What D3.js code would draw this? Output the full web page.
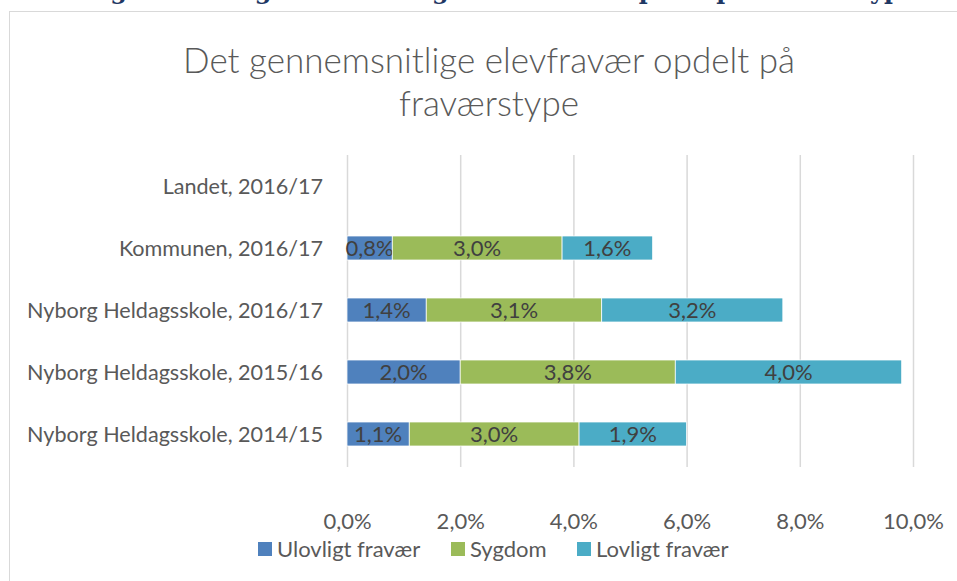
<!DOCTYPE html>
<html>
<head>
<meta charset="utf-8">
<script src="https://cdn.jsdelivr.net/npm/d3@7"></script>
<style>
body { margin: 0; background: #fff; }
svg { display: block; }
</style>
</head>
<body>
<script>
// data
var categories = ["Landet, 2016/17", "Kommunen, 2016/17", "Nyborg Heldagsskole, 2016/17", "Nyborg Heldagsskole, 2015/16", "Nyborg Heldagsskole, 2014/15"];
var seriesNames = ["Ulovligt fravær", "Sygdom", "Lovligt fravær"];
var ulovligt = [null, 0.8, 1.4, 2.0, 1.1];
var sygdom = [null, 3.0, 3.1, 3.8, 3.0];
var lovligt = [null, 1.6, 3.2, 4.0, 1.9];
var xTicks = [0, 2, 4, 6, 8, 10];
var colors = ["#4f81bd", "#9bbb59", "#4bacc6"];

var width = 957, height = 581;
var font = "Lato, 'Open Sans', sans-serif";
var labelSize = "22px";
var svg = d3.select("body").append("svg").attr("width", width).attr("height", height);

var pct = function(v){ return d3.format(".1f")(v).replace(".", ",") + "%"; };

// caption of the page above, cut by the top edge
svg.append("text")
    .attr("x", 500).attr("y", -1)
    .attr("text-anchor", "middle")
    .attr("font-family", "'DejaVu Serif', serif").attr("font-weight", "bold")
    .attr("font-size", "24px").attr("fill", "#1f3864")
    .text("Figur 4: Det gennemsnitlige elevfravær opdelt på fraværstype");

// chart frame
svg.append("rect").attr("x", 9.5).attr("y", 11.5).attr("width", 960).attr("height", 600)
    .attr("fill", "#fff").attr("stroke", "#d9d9d9").attr("stroke-width", 1);

// title
var title = svg.append("text").attr("text-anchor", "middle")
    .attr("font-family", font).attr("font-weight", 300)
    .attr("font-size", "35px").attr("fill", "#595959");
title.append("tspan").attr("x", 489).attr("y", 73).text("Det gennemsnitlige elevfravær opdelt på");
title.append("tspan").attr("x", 489).attr("y", 116).text("fraværstype");

// scales
var x = d3.scaleLinear().domain([0, 10]).range([347, 913]);
var y = d3.scaleBand().domain(categories).range([155, 465]).paddingInner(0.613).paddingOuter(0.3065);

// grid
svg.append("g").selectAll("line").data(xTicks).enter().append("line")
    .attr("x1", function(d){ return x(d) + 0.5; }).attr("x2", function(d){ return x(d) + 0.5; })
    .attr("y1", 155).attr("y2", 467)
    .attr("stroke", "#d9d9d9").attr("stroke-width", 1.5);

// x axis labels
var xAxis = d3.axisBottom(x).tickValues(xTicks).tickSize(0).tickPadding(0).tickFormat(pct);
var gx = svg.append("g").attr("transform", "translate(0,529)").call(xAxis);
gx.select(".domain").remove();
gx.selectAll("text").attr("dy", 0).attr("font-family", font).attr("font-size", labelSize).attr("fill", "#595959");

// y axis labels
var yAxis = d3.axisLeft(y).tickSize(0).tickPadding(0);
var gy = svg.append("g").attr("transform", "translate(323,0)").call(yAxis);
gy.select(".domain").remove();
gy.selectAll("text").attr("dy", "0.35em").attr("font-family", font).attr("font-size", "21.6px").attr("fill", "#595959");

// stacked bars
var rows = categories.map(function(c, i){
    return { cat: c, s0: ulovligt[i], s1: sygdom[i], s2: lovligt[i] };
});
var stack = d3.stack().keys(["s0", "s1", "s2"]).value(function(d, k){ return d[k] || 0; });
var layers = stack(rows);

layers.forEach(function(layer, li){
    var pts = layer.filter(function(d){ return d.data["s" + li] != null; });
    var g = svg.append("g");
    g.selectAll("rect").data(pts).enter().append("rect")
        .attr("x", function(d){ return x(d[0]); })
        .attr("y", function(d){ return y(d.data.cat); })
        .attr("width", function(d){ return x(d[1]) - x(d[0]); })
        .attr("height", y.bandwidth())
        .attr("fill", colors[li])
        .attr("stroke", "#fff").attr("stroke-width", 0.75);
    g.selectAll("text").data(pts).enter().append("text")
        .attr("x", function(d){ return (x(d[0]) + x(d[1])) / 2; })
        .attr("y", function(d){ return y(d.data.cat) + y.bandwidth() / 2; })
        .attr("dy", "0.35em").attr("text-anchor", "middle")
        .attr("font-family", font).attr("font-size", labelSize).attr("fill", "#404040")
        .text(function(d){ return pct(d.data["s" + li]); });
});

// legend
var legendX = [258, 451, 577];
var lg = svg.append("g").selectAll("g").data(seriesNames).enter().append("g")
    .attr("transform", function(d, i){ return "translate(" + legendX[i] + ",549)"; });
lg.append("rect").attr("x", 0).attr("y", -7).attr("width", 14).attr("height", 14)
    .attr("fill", function(d, i){ return colors[i]; });
lg.append("text").attr("x", 19).attr("dy", "0.35em")
    .attr("font-family", font).attr("font-size", labelSize).attr("fill", "#595959")
    .text(function(d){ return d; });
</script>
</body>
</html>
